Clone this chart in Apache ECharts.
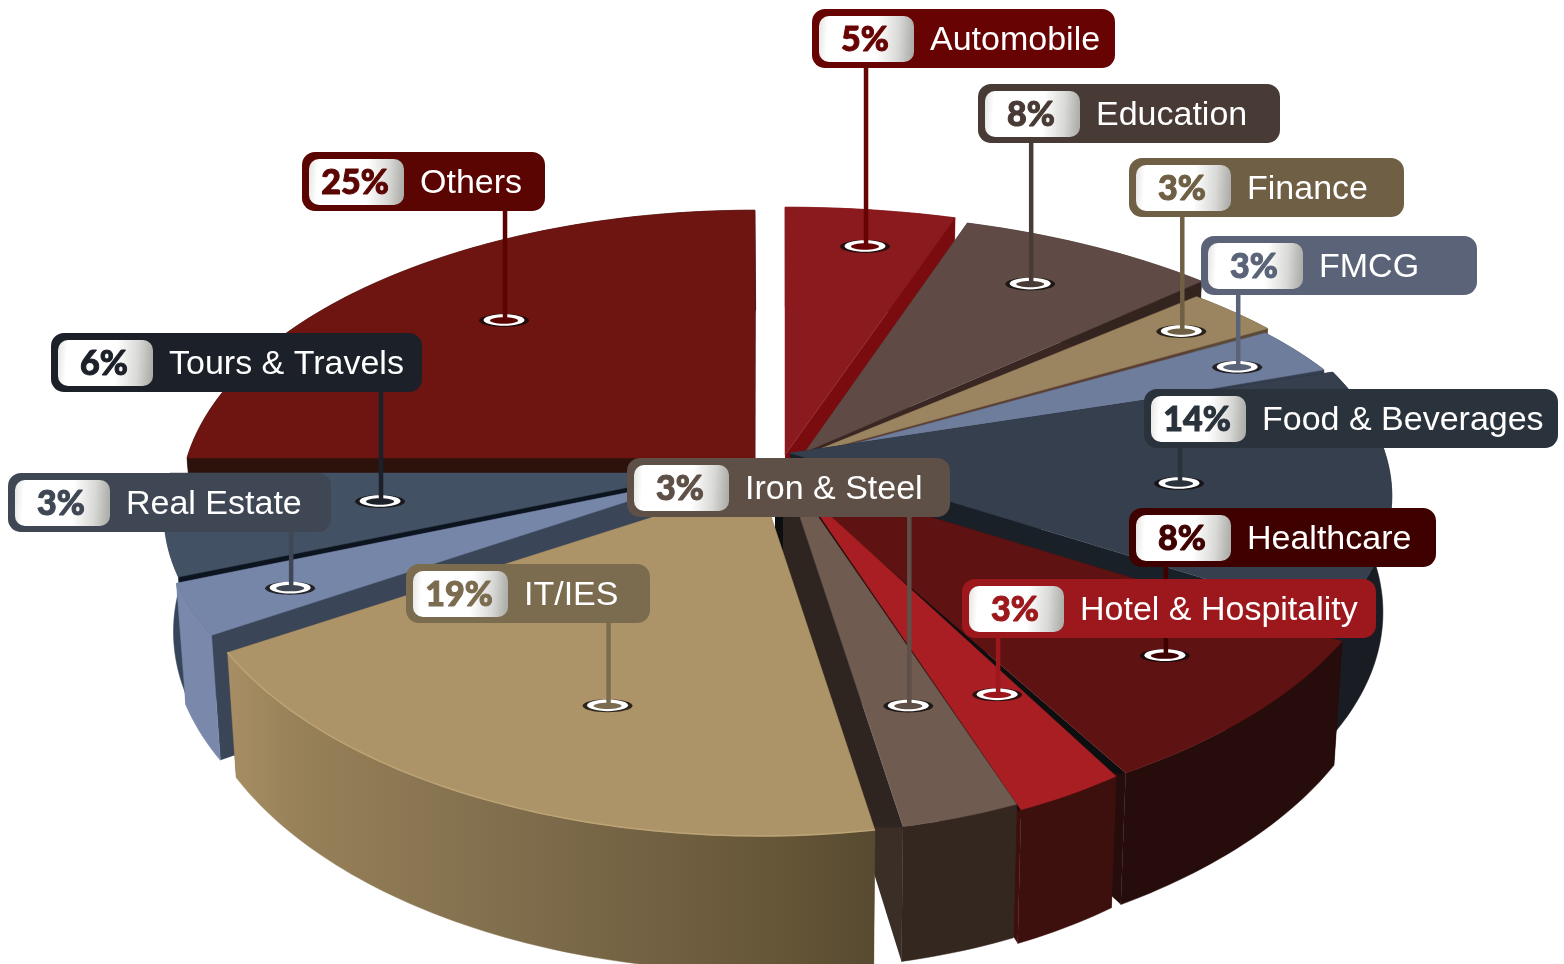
<!DOCTYPE html>
<html>
<head>
<meta charset="utf-8">
<style>html,body{margin:0;padding:0;background:#fff}#c{width:1564px;height:964px}</style>
<script src="https://cdn.jsdelivr.net/npm/echarts@6/dist/echarts.min.js"></script>
</head>
<body>
<div id="c"></div>
<script>
// ---- data ----
const categories = ['Automobile','Education','Finance','FMCG','Food & Beverages','Healthcare','Hotel & Hospitality','Iron & Steel','IT/IES','Real Estate','Tours & Travels','Others'];
const shares = [5,8,3,3,14,8,3,3,19,3,6,25];

// ---- slice geometry: apex x/y, radius x/y, rotation in degrees ----
const sliceApexX = [785,805,805,805,790,775,802,783,760,700,700,755];
const sliceApexY = [455,452,455,457,453,470,490,466,483,478,473,458];
const sliceRadX  = [629,600,592,589,595,612,512,546,575,532,530,568];
const sliceRadY  = [285,275,255,250,280,304,296,313,300,270,267,285];
const sliceRot   = [0,0,0,0,4,2.5,0,0,1,0,0,0];
const drawOrder  = [11,0,1,2,3,4,10,9,5,6,7,8];
const PERSP = 0.15, WALL = 115, CONVERGE = 0.015, VANISH_X = 800;

// ---- colours ----
const topColors  = ['#8a1a1e','#5f4a45','#9a8560','#6f7d9c','#363f4e','#5e1212','#a81e22','#6f5b50','#ac9468','#7686a8','#435164','#6e1411'];
const cutColors  = ['#7a0c10','#3a2622','#5b3f33','#343e4e','#1a2028','#0c0e10','#1e0908','#2e2420','#5a4a33','#3a4558','#0c1420','#2d120c'];
const cutLow     = ['#7a0c10','#3a2622','#5b3f33','#343e4e','#1a2028','#260d0c','#3d100e','#3a2e27','#5a4a33','#3a4558','#0c1420','#2d120c'];
const wallColors = ['#7a0c10','#33241f','#5b4a35','#343e4e','#191c22','#260d0c','#3d100e','#33271f','#7c6a4a','#7988ab','#37455a','#2d120c'];
const boxColors  = ['#680303','#483a35','#6e5f45','#5a6378','#2a323c','#3f0000','#9c181d','#5e4f47','#7b6c50','#3f4755','#1b2029','#5a0502'];

// ---- callout layout ----
const boxX = [812,978,1129,1201,1144,1129,962,627,406,8,51,302];
const boxY = [9,84,158,236,389,508,579,458,564,473,333,152];
const boxW = [303,302,275,276,414,307,414,323,244,323,371,243];
const markerSweep  = [.547,.469,.537,.574,.534,.431,.324,.454,.431,.426,.5435,.529];
const markerRadius = [.854,.81,.873,.872,.6465,.79,.685,.684,.676,.81,.597,.728];

const total = shares.reduce((a, b) => a + b, 0);
const rad = d => d * Math.PI / 180;
const startDeg = shares.map((_, i) => shares.slice(0, i).reduce((a, b) => a + b, 0) / total * 360);
const sweepDeg = shares.map(v => v / total * 360);

function rimPoint(i, deg, q) {
  const a = rad(deg + sliceRot[i]);
  const d = 1 + PERSP * Math.cos(a);
  return [sliceApexX[i] + q * sliceRadX[i] * Math.sin(a) / d,
          sliceApexY[i] - q * sliceRadY[i] * Math.cos(a) / d];
}
function dropPoint(p, deg) {
  const h = WALL / (1 + PERSP * Math.cos(rad(deg)));
  return [p[0] - CONVERGE * (p[0] - VANISH_X), p[1] + h];
}
function cutFill(i, rimY) {
  if (cutColors[i] === cutLow[i]) return cutColors[i];
  return new echarts.graphic.LinearGradient(0, rimY - 1, 0, rimY + 2, [
    {offset:0, color:cutColors[i]},{offset:1, color:cutLow[i]}], true);
}

function renderSlice(params, api) {
  const i = params.dataIndex;
  const sweep = api.value(0) / total * 360;
  const s = startDeg[i];
  const apex = [sliceApexX[i], sliceApexY[i]];
  const apexLow = [apex[0], apex[1] + WALL];
  const rim = [], rimLow = [];
  const steps = Math.max(2, Math.ceil(sweep));
  for (let k = 0; k <= steps; k++) {
    const d = s + sweep * k / steps;
    const p = rimPoint(i, d, 1);
    rim.push(p);
    rimLow.push(dropPoint(p, d));
  }
  const z = drawOrder.indexOf(i) * 10;
  let wallFill = wallColors[i];
  if (categories[i] === 'IT/IES') {
    wallFill = new echarts.graphic.LinearGradient(225, 0, 875, 0, [
      {offset:0, color:'#a88e64'},{offset:.12, color:'#968058'},{offset:.5, color:'#7c6a4a'},
      {offset:.85, color:'#665638'},{offset:1, color:'#574a30'}], true);
  }
  const children = [
    {type:'polygon', z2:z, shape:{points:[apex, rim[0], rimLow[0], apexLow]}, style:{fill:cutFill(i, rim[0][1])}},
    {type:'polygon', z2:z+1, shape:{points:[apex, rim[steps], rimLow[steps], apexLow]}, style:{fill:cutFill(i, rim[steps][1])}},
    {type:'polygon', z2:z+2, shape:{points:rim.concat(rimLow.slice().reverse())}, style:{fill:wallFill, stroke:wallFill, lineWidth:.5}},
    {type:'polygon', z2:z+3, shape:{points:[apex].concat(rim)}, style:{fill:topColors[i], stroke:topColors[i], lineWidth:.5}}
  ];
  if (categories[i] === 'IT/IES') {
    children.push({type:'polyline', z2:z+4, shape:{points:rim}, style:{fill:null, stroke:'#bda477', lineWidth:1.5}});
  }
  return {type:'group', children};
}

const pillFill = new echarts.graphic.LinearGradient(0, 0, 1, 0.12, [
  {offset:0, color:'#e4e4e2'},{offset:.1, color:'#ffffff'},{offset:.62, color:'#ffffff'},
  {offset:.85, color:'#d8d8d6'},{offset:1, color:'#aeaeaa'}]);

function renderCallout(params, api) {
  const i = params.dataIndex;
  const pct = api.value(0);
  const x = boxX[i], y = boxY[i], w = boxW[i], H = 59;
  const m = rimPoint(i, startDeg[i] + sweepDeg[i] * markerSweep[i], markerRadius[i]);
  const col = boxColors[i];
  const z = i * 10;
  return {type:'group', children:[
    {type:'ellipse', z2:z, shape:{cx:m[0], cy:m[1]+.5, rx:25, ry:6.5}, style:{fill:'rgba(15,10,10,.8)'}},
    {type:'ellipse', z2:z+1, shape:{cx:m[0], cy:m[1], rx:20.5, ry:5.8}, style:{fill:'#ffffff'}},
    {type:'ellipse', z2:z+2, shape:{cx:m[0], cy:m[1]+.5, rx:14, ry:3.2}, style:{fill:col}},
    {type:'line', z2:z+3, shape:{x1:m[0]+1, y1:y+H-2, x2:m[0]+1, y2:m[1]}, style:{stroke:col, lineWidth:4.5}},
    {type:'rect', z2:z+4, shape:{x:x, y:y, width:w, height:H, r:13}, style:{fill:col}},
    {type:'rect', z2:z+5, shape:{x:x+7, y:y+7, width:95, height:46, r:10}, style:{fill:pillFill}},
    {type:'text', z2:z+6, style:{x:x+53, y:y+31, text:pct+'%', fill:col, stroke:col, lineWidth:1, font:'900 34px Lato, "Open Sans", sans-serif', align:'center', verticalAlign:'middle'}},
    {type:'text', z2:z+6, style:{x:x+118, y:y+32, text:categories[i], fill:'#ffffff', font:'34px "Liberation Sans", Arial, sans-serif', align:'left', verticalAlign:'middle'}}
  ]};
}

const chart = echarts.init(document.getElementById('c'), null, {renderer:'canvas'});
chart.setOption({
  animation:false,
  backgroundColor:'#ffffff',
  series:[
    {type:'custom', coordinateSystem:'none', silent:true, z:2, renderItem:renderSlice,
     data:shares.map((v, i) => ({name:categories[i], value:[v]}))},
    {type:'custom', coordinateSystem:'none', silent:true, z:3, renderItem:renderCallout,
     data:shares.map((v, i) => ({name:categories[i], value:[v]}))}
  ]
});
</script>
</body>
</html>
